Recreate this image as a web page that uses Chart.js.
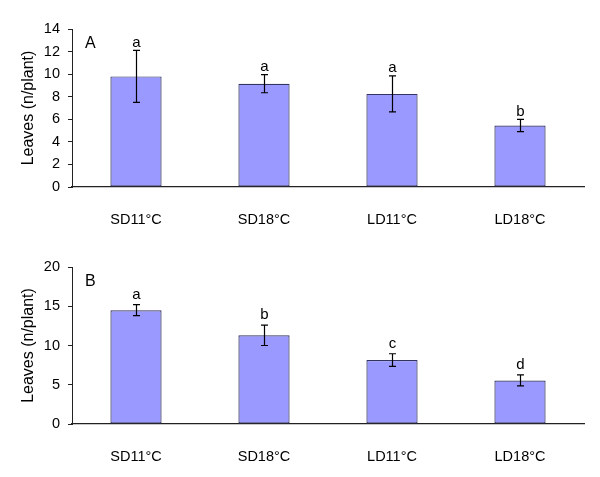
<!DOCTYPE html>
<html>
<head>
<meta charset="utf-8">
<script src="https://cdn.jsdelivr.net/npm/chart.js@4/dist/chart.umd.min.js"></script>
<style>
  body { margin: 0; background: #fff; }
  #wrap { position: relative; width: 600px; height: 477px; }
  .panel { position: absolute; left: 0; width: 600px; }
</style>
</head>
<body>
<div id="wrap">
  <div class="panel" style="top:0;height:230px"><canvas id="chartA" width="600" height="230"></canvas></div>
  <div class="panel" style="top:230px;height:247px"><canvas id="chartB" width="600" height="247"></canvas></div>
</div>
<script>
const FONT = "'Liberation Sans', Arial, sans-serif";
const categories = ["SD11°C", "SD18°C", "LD11°C", "LD18°C"];

// panel A
const valuesA = [9.8, 9.15, 8.25, 5.45];
const errorsA = [2.3, 0.8, 1.6, 0.55];
const lettersA = ["a", "a", "a", "b"];
const ticksA = { max: 14, step: 2 };

// panel B
const valuesB = [14.5, 11.3, 8.15, 5.55];
const errorsB = [0.7, 1.3, 0.8, 0.7];
const lettersB = ["a", "b", "c", "d"];
const ticksB = { max: 20, step: 5 };

const AXIS = "#222";

// error bars, letters and panel tag
const extras = {
  id: "extras",
  afterDatasetsDraw(chart, args, opts) {
    const { ctx, chartArea } = chart;
    const x = chart.scales.x, y = chart.scales.y;
    ctx.save();
    ctx.strokeStyle = "#000";
    ctx.lineWidth = 1.2;
    ctx.fillStyle = "#000";
    ctx.font = "15px " + FONT;
    ctx.textAlign = "center";
    ctx.textBaseline = "alphabetic";
    opts.values.forEach((v, i) => {
      const px = Math.round(x.getPixelForValue(i)) + 0.5;
      const top = y.getPixelForValue(v + opts.errors[i]);
      const bot = y.getPixelForValue(v - opts.errors[i]);
      ctx.beginPath();
      ctx.moveTo(px, top); ctx.lineTo(px, bot);
      ctx.moveTo(px - 3.5, top); ctx.lineTo(px + 3.5, top);
      ctx.moveTo(px - 3.5, bot); ctx.lineTo(px + 3.5, bot);
      ctx.stroke();
      ctx.fillText(opts.letters[i], px, top - opts.gap);
    });
    ctx.font = "16px " + FONT;
    ctx.textAlign = "left";
    ctx.textBaseline = "middle";
    ctx.fillText(opts.tag, chartArea.left + 13, chartArea.top + 14.5);
    ctx.restore();
  }
};

function makeChart(id, values, errors, letters, ticks, tag, gap, padTop, xHeight) {
  return new Chart(document.getElementById(id), {
    type: "bar",
    data: {
      labels: categories,
      datasets: [{
        data: values,
        backgroundColor: "#9999ff",
        borderColor: "#33335f",
        borderWidth: 1.2,
        borderSkipped: false,
        categoryPercentage: 1,
        barPercentage: 0.4
      }]
    },
    options: {
      responsive: false,
      animation: false,
      layout: { padding: { top: padTop, right: 16, left: 0, bottom: 0 } },
      plugins: {
        legend: { display: false },
        tooltip: { enabled: false },
        extras: { values, errors, letters, tag, gap }
      },
      scales: {
        x: {
          grid: { display: false },
          border: { display: true, color: AXIS, width: 1.2 },
          ticks: { color: "#000", padding: 16, font: { family: FONT, size: 14.5 } },
          afterFit(s) { s.height = xHeight; }
        },
        y: {
          min: 0,
          max: ticks.max,
          grid: { drawOnChartArea: false, drawTicks: true, tickLength: 4, tickColor: AXIS, tickWidth: 1 },
          border: { display: true, color: AXIS, width: 1 },
          ticks: { stepSize: ticks.step, color: "#000", padding: 8, font: { family: FONT, size: 14.5 } },
          title: {
            display: true,
            text: "Leaves (n/plant)",
            color: "#000",
            padding: { top: 19, bottom: 0 },
            font: { family: FONT, size: 16 }
          },
          afterFit(s) { s.width = 72; }
        }
      }
    },
    plugins: [extras]
  });
}

makeChart("chartA", valuesA, errorsA, lettersA, ticksA, "A", 3.5, 29, 43);
makeChart("chartB", valuesB, errorsB, lettersB, ticksB, "B", 6, 37, 53);
</script>
</body>
</html>
